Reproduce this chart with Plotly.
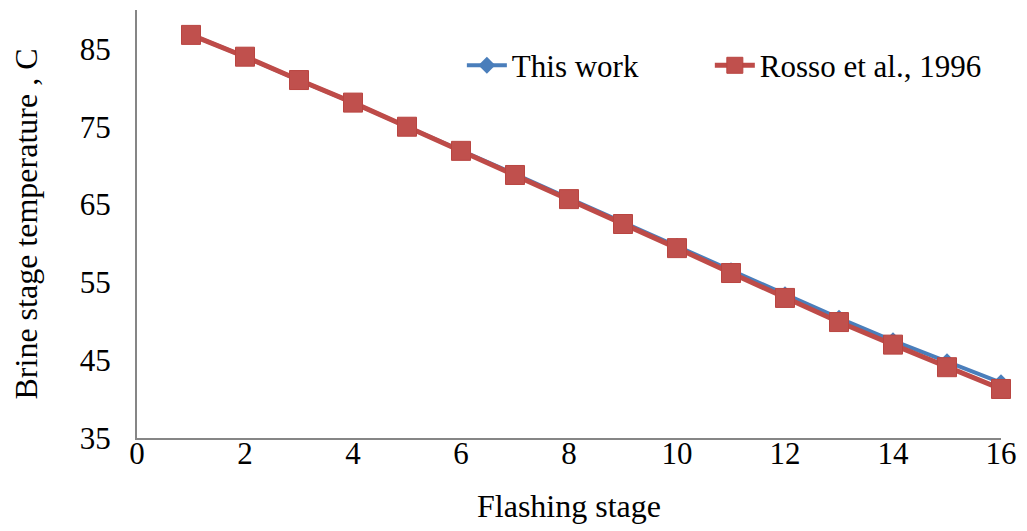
import plotly.graph_objects as go

stages = list(range(1, 17))
this_work = [86.8, 84.0, 81.0, 78.1, 75.0, 72.0, 68.9, 65.8, 62.7, 59.6, 56.5, 53.4, 50.4, 47.5, 44.8, 42.1]
rosso = [86.8, 84.0, 81.0, 78.1, 75.0, 71.9, 68.8, 65.7, 62.5, 59.4, 56.2, 53.0, 49.9, 47.0, 44.1, 41.3]

font_family = "Liberation Serif, Times New Roman, serif"

fig = go.Figure()
fig.add_trace(go.Scatter(
    x=stages, y=this_work, name="This work", mode="lines+markers",
    line=dict(color="#4A7EBB", width=4),
    marker=dict(symbol="diamond", size=13, color="#4A7EBB"),
    cliponaxis=False, legend="legend",
))
fig.add_trace(go.Scatter(
    x=stages, y=rosso, name="Rosso et al., 1996", mode="lines+markers",
    line=dict(color="#BE4B48", width=5),
    marker=dict(symbol="square", size=19, color="#C0504D", line=dict(color="#B94541", width=1)),
    cliponaxis=False, legend="legend2",
))

leg_common = dict(orientation="h", y=0.87, xanchor="left", yanchor="middle",
                  font=dict(size=31, family=font_family), bgcolor="rgba(0,0,0,0)",
                  itemwidth=40)

fig.update_layout(
    width=1027, height=531,
    margin=dict(l=137, r=26, t=10, b=93, autoexpand=False),
    paper_bgcolor="white", plot_bgcolor="white",
    font=dict(family=font_family, size=31, color="black"),
    showlegend=True,
    legend=dict(x=0.376, **leg_common),
    legend2=dict(x=0.663, **leg_common),
    xaxis=dict(range=[0, 16], tickmode="array", tickvals=[0, 2, 4, 6, 8, 10, 12, 14, 16],
               showline=True, linecolor="#868686", linewidth=2, showgrid=False, zeroline=False,
               ticks="", ticklabelstandoff=-13, automargin=False,
               tickfont=dict(size=31, family=font_family),
               title=dict(text="Flashing stage", font=dict(size=32, family=font_family), standoff=24)),
    yaxis=dict(range=[35, 90], tickmode="array", tickvals=[35, 45, 55, 65, 75, 85],
               showline=True, linecolor="#868686", linewidth=2, showgrid=False, zeroline=False,
               ticks="", ticklabelstandoff=18, automargin=False,
               tickfont=dict(size=31, family=font_family),
               title=dict(text="Brine stage temperature , C", font=dict(size=32, family=font_family), standoff=33)),
)

fig.write_html("out.html")
